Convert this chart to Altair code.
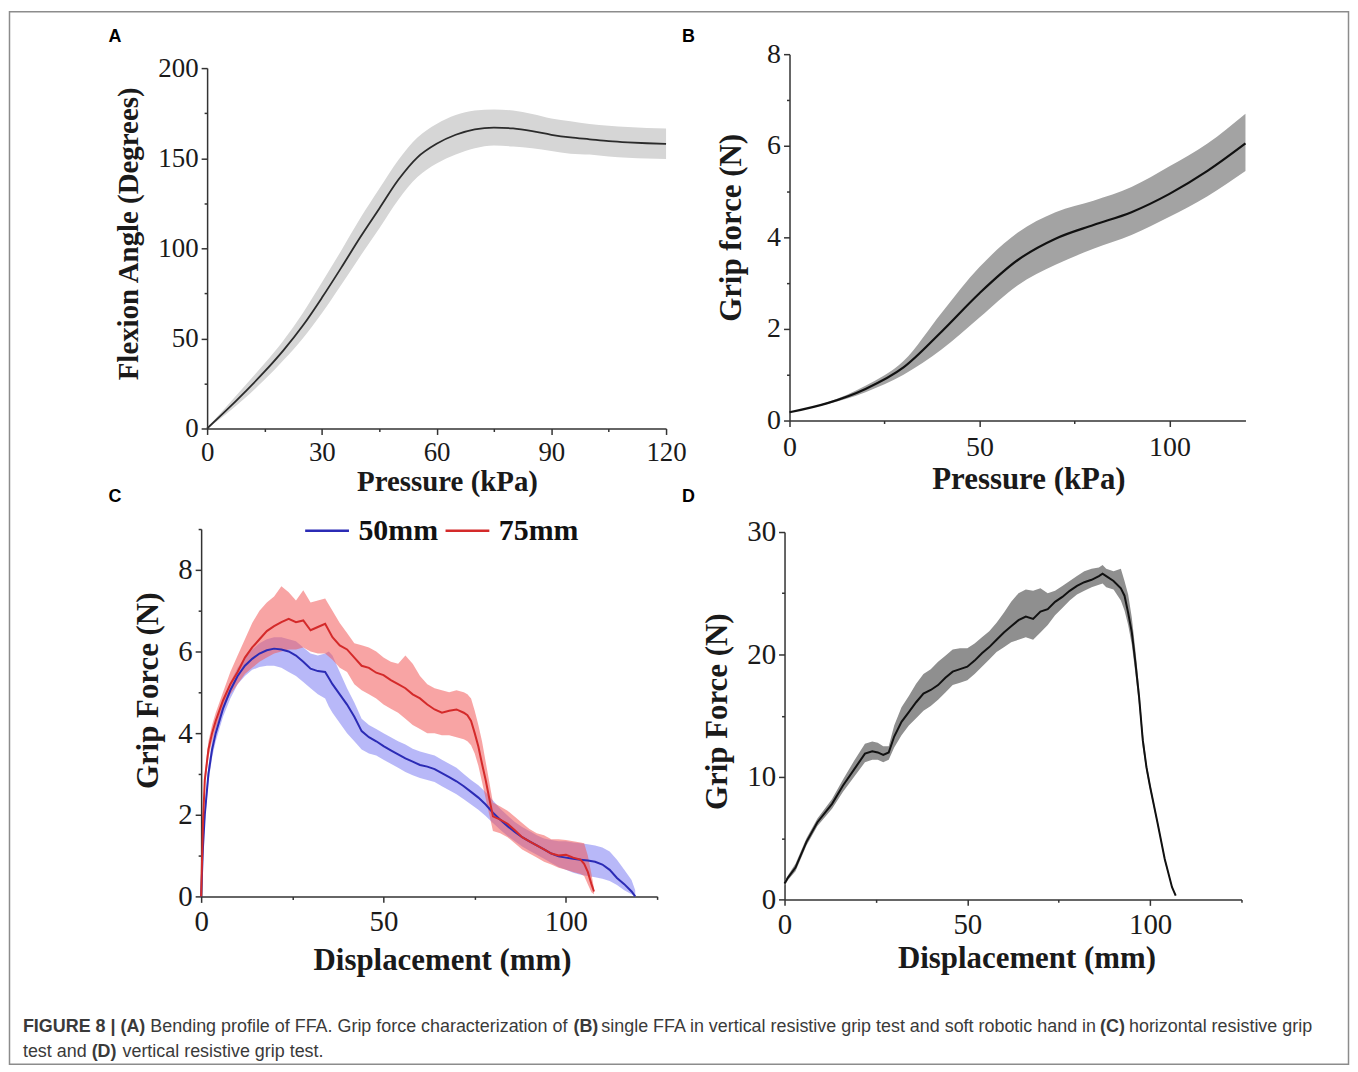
import altair as alt
import pandas as pd

# ---------------- Panel A : bending profile ----------------
a_pressure = [0, 5, 10, 15, 20, 25, 30, 35, 40, 45, 50, 55, 60, 65, 70, 75, 80, 85, 90, 95, 100, 105, 110, 115, 120]
a_mean = [0, 10, 20.5, 31.5, 43.5, 57, 72.5, 89, 106, 122, 138, 150.5, 158, 163, 166, 167, 166.5, 165, 163, 161.5, 160.5, 159.5, 158.8, 158.3, 158]
a_upper = [0.5, 12, 24, 36, 49, 64, 81, 98.5, 116.5, 133, 149, 161.5, 169, 174, 176.5, 177, 176.5, 174.5, 172, 170.5, 169, 168, 167.3, 166.8, 166.5]
a_lower = [0, 8, 17, 27, 38, 50, 64, 79.5, 95.5, 111, 127, 139.5, 147, 152, 155.5, 157, 156.5, 155.5, 154, 152.5, 152, 151, 150.3, 149.8, 149.5]

# ---------------- Panel B : single FFA grip force ----------------
b_pressure = [0, 10, 20, 30, 40, 50, 60, 70, 80, 90, 100, 110, 120]
b_mean = [0.18, 0.38, 0.69, 1.16, 1.94, 2.78, 3.50, 3.97, 4.27, 4.55, 4.95, 5.45, 6.05]
b_upper = [0.18, 0.40, 0.76, 1.30, 2.35, 3.35, 4.10, 4.55, 4.80, 5.10, 5.55, 6.05, 6.70]
b_lower = [0.18, 0.36, 0.62, 1.00, 1.55, 2.25, 2.95, 3.40, 3.75, 4.05, 4.45, 4.90, 5.45]

# ---------------- Panel C : horizontal resistive grip ----------------
c50_x = [0, 0.5, 1, 2, 3, 4, 6, 8, 10, 12, 14, 16, 18, 20, 22, 24, 26, 28, 30, 32, 34, 35, 36, 38, 40,
         42, 44, 46, 48, 50, 52, 54, 56, 58, 60, 62, 64, 66, 68, 70, 72, 74, 76, 78, 80, 82, 84, 86, 88,
         90, 92, 94, 96, 98, 100, 102, 104, 106, 108, 110, 112, 114, 116, 118, 119]
c50_mean = [0, 1.2, 2.0, 3.0, 3.6, 4.0, 4.6, 5.05, 5.4, 5.65, 5.82, 5.95, 6.03, 6.07, 6.05, 6.0, 5.9, 5.75, 5.58, 5.52, 5.5, 5.35, 5.2, 4.95, 4.7,
            4.4, 4.05, 3.9, 3.8, 3.68, 3.58, 3.48, 3.38, 3.3, 3.22, 3.18, 3.12, 3.02, 2.92, 2.82, 2.7, 2.56, 2.42, 2.25, 2.05, 1.88, 1.72, 1.58, 1.45,
            1.35, 1.25, 1.15, 1.05, 0.98, 0.95, 0.92, 0.9, 0.88, 0.85, 0.78, 0.65, 0.45, 0.3, 0.12, 0.0]
c50_upper = [0, 1.3, 2.2, 3.2, 3.8, 4.2, 4.8, 5.25, 5.6, 5.85, 6.05, 6.2, 6.3, 6.35, 6.35, 6.3, 6.25, 6.1, 5.95, 5.9, 5.95, 6.0, 5.9, 5.5, 5.1,
             4.75, 4.35, 4.2, 4.1, 4.0, 3.9, 3.8, 3.72, 3.62, 3.55, 3.5, 3.45, 3.35, 3.25, 3.15, 3.0, 2.85, 2.72, 2.55, 2.35, 2.15, 1.98, 1.82, 1.7,
             1.6, 1.5, 1.42, 1.38, 1.35, 1.35, 1.32, 1.3, 1.28, 1.25, 1.2, 1.1, 0.9, 0.65, 0.4, 0.15]
c50_lower = [0, 1.1, 1.8, 2.8, 3.4, 3.8, 4.4, 4.85, 5.2, 5.4, 5.55, 5.62, 5.65, 5.65, 5.6, 5.5, 5.4, 5.25, 5.1, 4.95, 4.85, 4.65, 4.5, 4.25, 4.0,
             3.8, 3.6, 3.5, 3.45, 3.35, 3.25, 3.15, 3.05, 2.97, 2.9, 2.85, 2.8, 2.7, 2.6, 2.5, 2.38, 2.25, 2.12, 1.97, 1.8, 1.63, 1.48, 1.35, 1.22,
             1.12, 1.02, 0.92, 0.82, 0.72, 0.65, 0.58, 0.53, 0.5, 0.47, 0.43, 0.38, 0.28, 0.15, 0.05, 0.0]

c75_x = [0, 0.5, 1, 2, 3, 4, 6, 8, 10, 12, 14, 16, 18, 20, 22, 24, 26, 28, 30, 32, 34, 36, 38, 40, 42, 44, 46, 48,
         50, 52, 54, 56, 58, 60, 62, 64, 66, 68, 70, 72, 73, 74, 75, 76, 77, 78, 79, 80, 82, 84, 86, 88, 90, 92,
         94, 96, 98, 100, 102, 104, 105, 106, 107, 107.7]
c75_mean = [0, 1.8, 2.85, 3.6, 4.0, 4.3, 4.8, 5.2, 5.5, 5.85, 6.1, 6.3, 6.5, 6.62, 6.72, 6.8, 6.72, 6.76, 6.52, 6.6, 6.68, 6.35, 6.15, 6.05, 5.85, 5.65, 5.6, 5.48,
            5.42, 5.3, 5.2, 5.1, 4.95, 4.85, 4.7, 4.58, 4.5, 4.55, 4.58, 4.5, 4.44, 4.3, 4.0, 3.67, 3.25, 2.85, 2.4, 1.96, 1.88, 1.78, 1.62, 1.45, 1.35, 1.25,
            1.15, 1.05, 1.0, 1.02, 0.95, 0.9, 0.8, 0.6, 0.3, 0.12]
c75_upper = [0, 2.0, 3.0, 3.8, 4.2, 4.5, 5.0, 5.5, 5.9, 6.3, 6.7, 7.0, 7.2, 7.35, 7.6, 7.45, 7.25, 7.5, 7.2, 7.25, 7.3, 7.0, 6.7, 6.45, 6.2, 6.15, 6.1, 6.0,
             5.85, 5.75, 5.7, 5.9, 5.7, 5.4, 5.2, 5.1, 5.05, 5.0, 5.05, 5.0, 4.95, 4.85, 4.55, 4.2, 3.8, 3.3, 2.8, 2.3, 2.2, 2.1, 1.95, 1.8, 1.65, 1.55,
             1.5, 1.4, 1.4, 1.38, 1.35, 1.32, 1.3, 1.0, 0.55, 0.2]
c75_lower = [0, 1.6, 2.7, 3.4, 3.8, 4.1, 4.6, 4.95, 5.2, 5.45, 5.6, 5.75, 5.85, 5.95, 6.0, 6.05, 6.05, 6.1, 6.0, 5.95, 5.95, 5.8, 5.6, 5.5, 5.2, 5.05, 4.95, 4.85,
             4.7, 4.6, 4.5, 4.35, 4.2, 4.1, 4.0, 4.0, 3.95, 3.95, 3.9, 3.85, 3.8, 3.7, 3.5, 3.2, 2.8, 2.4, 2.0, 1.6, 1.55, 1.45, 1.3, 1.15, 1.05, 0.95,
             0.85, 0.78, 0.7, 0.65, 0.6, 0.55, 0.5, 0.3, 0.1, 0.05]
c_series = ["50mm", "75mm"]

# ---------------- Panel D : vertical resistive grip ----------------
d_x = [0, 1, 3, 6, 9, 13, 16, 19, 22, 24, 25.5, 27, 28.5,
       30, 32, 34, 36, 38, 40, 42, 44, 46, 48, 50, 52, 54, 56, 58, 60, 62, 64, 66, 68, 70, 72, 74, 76, 78, 80, 82, 84, 86,
       87, 88, 90, 92, 93, 94, 95, 96, 97, 98, 99, 100, 102, 104, 106, 107]
d_mean = [1.3, 1.8, 2.6, 4.7, 6.3, 7.8, 9.3, 10.6, 11.9, 12.1, 12.0, 11.8, 12.0,
          13.3, 14.5, 15.3, 16.1, 16.8, 17.1, 17.5, 18.1, 18.6, 18.8, 19.0, 19.5, 20.1, 20.6, 21.2, 21.8, 22.3, 22.8, 23.1, 22.9, 23.5, 23.7, 24.3, 24.7, 25.2, 25.6, 25.9, 26.1, 26.4,
          26.6, 26.4, 26.0, 25.4, 24.8, 23.4, 21.8, 19.3, 16.5, 13.0, 10.8, 9.2, 6.3, 3.3, 1.0, 0.3]
d_upper = [1.5, 2.0, 2.9, 5.0, 6.6, 8.2, 9.8, 11.3, 12.7, 12.9, 12.8, 12.5, 12.5,
           14.2, 15.7, 16.6, 17.6, 18.4, 18.8, 19.4, 19.9, 20.4, 20.5, 20.5, 20.9, 21.4, 21.9, 22.6, 23.4, 24.3, 25.0, 25.3, 25.2, 25.4, 25.0, 25.2, 25.6, 26.0, 26.4, 26.8, 27.0, 27.1,
           27.3, 27.0, 26.8, 27.0, 26.0, 24.9, 23.0, 20.3, 17.2, 13.6, 11.2, 9.5, 6.5, 3.5, 1.1, 0.35]
d_lower = [1.1, 1.6, 2.3, 4.4, 6.0, 7.4, 8.8, 10.0, 11.2, 11.4, 11.4, 11.2, 11.4,
           12.4, 13.4, 14.2, 14.8, 15.4, 15.8, 16.3, 16.9, 17.5, 17.7, 17.9, 18.4, 19.0, 19.6, 20.2, 20.6, 21.0, 21.2, 21.4, 21.2, 21.8, 22.4, 23.2, 23.8, 24.4, 24.9, 25.2, 25.5, 25.7,
           25.8, 25.5, 25.3, 24.4, 23.6, 22.4, 20.8, 18.4, 15.8, 12.4, 10.4, 8.9, 6.1, 3.1, 0.9, 0.25]

# ---------------- texts ----------------
panel_letters = ["A", "B", "C", "D"]
caption_line1 = [("FIGURE 8 | (A)", True), ("Bending profile of FFA. Grip force characterization of", False),
                 ("(B)", True), ("single FFA in vertical resistive grip test and soft robotic hand in", False),
                 ("(C)", True), ("horizontal resistive grip", False)]
caption_line2 = [("test and", False), ("(D)", True), ("vertical resistive grip test.", False)]

SERIF = "Liberation Serif"
SANS = "Liberation Sans"
AX = "#333333"
TXT = "#1a1a1a"


def x_axis(title, values, major, tx, ty, lsize, tsize, lpad):
    test = f"datum.value % {major} === 0"
    return alt.Axis(title=title, values=values, grid=False,
                    labelExpr=f"{test} ? datum.label : ''",
                    tickSize={"condition": {"test": test, "value": 6}, "value": 3},
                    tickWidth=1.5, tickColor=AX, domainColor=AX, domainWidth=1.5,
                    labelFont=SERIF, labelFontSize=lsize, labelColor=TXT, labelPadding=lpad,
                    labelOverlap=False, labelFlush=False,
                    titleFont=SERIF, titleFontSize=tsize, titleFontWeight="bold", titleColor=TXT,
                    titleX=tx, titleY=ty, titleAlign="center", titleBaseline="alphabetic", titleAngle=0)


def y_axis(title, values, major, tx, ty, lsize, tsize, offset=0):
    test = f"datum.value % {major} === 0"
    return alt.Axis(title=title, values=values, grid=False,
                    labelExpr=f"{test} ? datum.label : ''",
                    tickSize={"condition": {"test": test, "value": 6}, "value": 3},
                    tickWidth=1.5, tickColor=AX, domainColor=AX, domainWidth=1.5,
                    labelFont=SERIF, labelFontSize=lsize, labelColor=TXT, labelPadding=3,
                    labelOverlap=False, labelFlush=False,
                    titleFont=SERIF, titleFontSize=tsize, titleFontWeight="bold", titleColor=TXT,
                    titleX=tx, titleY=ty, titleAlign="center", titleBaseline="alphabetic", titleAngle=270,
                    offset=offset)


one = pd.DataFrame({"k": [0]})

# ---------------- Panel A chart ----------------
a_df = pd.DataFrame({"P": a_pressure, "mean": a_mean, "lo": a_lower, "hi": a_upper})
a_xs = alt.Scale(domain=[0, 120], range=[6, 467], nice=False, zero=False)
a_ys = alt.Scale(domain=[0, 200], range=[376, 14], nice=False)
a_xa = x_axis("Pressure (kPa)", list(range(0, 121, 15)), 30, 247, 62, 27, 29, 5)
a_ya = y_axis("Flexion Angle (Degrees)", list(range(0, 201, 25)), 50, -70, 180, 27, 29, offset=-6)
a_band = alt.Chart(a_df).mark_area(color="#d6d6d6", interpolate="monotone").encode(
    x=alt.X("P:Q", scale=a_xs, axis=a_xa), y=alt.Y("lo:Q", scale=a_ys, axis=a_ya), y2="hi:Q")
a_line = alt.Chart(a_df).mark_line(color="#2b2b2b", strokeWidth=1.8, interpolate="monotone").encode(
    x=alt.X("P:Q", scale=a_xs, axis=a_xa), y=alt.Y("mean:Q", scale=a_ys, axis=a_ya))

# decorations positioned relative to panel A's cell origin
deco = [alt.Chart(one).mark_rect(filled=False, stroke="#8c8c8c", strokeWidth=1.5).encode(
    x=alt.value(-192.5), x2=alt.value(1152.5), y=alt.value(-42.5), y2=alt.value(1014.5))]
letter_pos = [(-93, -12), (483, -12), (-93, 450), (483, 450)]
for letter, (lx, ly) in zip(panel_letters, letter_pos):
    deco.append(alt.Chart(one).mark_text(text=letter, font=SANS, fontSize=18, fontWeight="bold",
                                         color="#000000", align="left", baseline="alphabetic").encode(
        x=alt.value(lx), y=alt.value(ly)))
cap1_x = [-179, -51, 374, 402, 903, 932]
cap2_x = [-179, -110, -79]
for (txt, bold), cx in zip(caption_line1, cap1_x):
    deco.append(alt.Chart(one).mark_text(text=txt, font=SANS, fontSize=18,
                                         fontWeight="bold" if bold else "normal",
                                         color="#3a3a3a", align="left", baseline="alphabetic").encode(
        x=alt.value(cx), y=alt.value(982)))
for (txt, bold), cx in zip(caption_line2, cap2_x):
    deco.append(alt.Chart(one).mark_text(text=txt, font=SANS, fontSize=18,
                                         fontWeight="bold" if bold else "normal",
                                         color="#3a3a3a", align="left", baseline="alphabetic").encode(
        x=alt.value(cx), y=alt.value(1007)))

panel_a = alt.layer(a_band, a_line, *deco).properties(width=467, height=376)

# ---------------- Panel B chart ----------------
b_df = pd.DataFrame({"P": b_pressure, "mean": b_mean, "lo": b_lower, "hi": b_upper})
b_xs = alt.Scale(domain=[0, 120], range=[5, 463], nice=False, zero=False)
b_ys = alt.Scale(domain=[0, 8], nice=False)
b_xa = x_axis("Pressure (kPa)", [0, 25, 50, 75, 100], 50, 245, 68, 28, 31, 7)
b_ya = y_axis("Grip force (N)", list(range(0, 9)), 2, -49, 174, 28, 31, offset=-5)
b_band = alt.Chart(b_df).mark_area(color="#a3a3a3", interpolate="monotone").encode(
    x=alt.X("P:Q", scale=b_xs, axis=b_xa), y=alt.Y("lo:Q", scale=b_ys, axis=b_ya), y2="hi:Q")
b_line = alt.Chart(b_df).mark_line(color="#111111", strokeWidth=2.2, interpolate="monotone").encode(
    x=alt.X("P:Q", scale=b_xs, axis=b_xa), y=alt.Y("mean:Q", scale=b_ys, axis=b_ya))
panel_b = alt.layer(b_band, b_line).properties(width=463, height=368)

# ---------------- Panel C chart ----------------
BLUE_L, RED_L = "#2b2bb5", "#d42a2a"
c50_df = pd.DataFrame({"x": c50_x, "lo": c50_lower, "hi": c50_upper})
c75_df = pd.DataFrame({"x": c75_x, "lo": c75_lower, "hi": c75_upper})
c_lines = pd.DataFrame({"x": c50_x + c75_x, "F": c50_mean + c75_mean,
                        "series": [c_series[0]] * len(c50_x) + [c_series[1]] * len(c75_x)})
c_xs = alt.Scale(domain=[0, 125], nice=False, zero=False)
c_ys = alt.Scale(domain=[0, 9], nice=False)
c_xa = x_axis("Displacement (mm)", [0, 25, 50, 75, 100, 125], 50, 242, 73, 29, 31, 5)
c_ya = y_axis("Grip Force (N)", list(range(0, 10)), 2, -44, 162, 29, 31)
c_band50 = alt.Chart(c50_df).mark_area(color="#7d7df2", opacity=0.55).encode(
    x=alt.X("x:Q", scale=c_xs, axis=c_xa), y=alt.Y("lo:Q", scale=c_ys, axis=c_ya), y2="hi:Q")
c_band75 = alt.Chart(c75_df).mark_area(color="#f25a5a", opacity=0.55).encode(
    x=alt.X("x:Q", scale=c_xs, axis=c_xa), y=alt.Y("lo:Q", scale=c_ys, axis=c_ya), y2="hi:Q")
c_line = alt.Chart(c_lines).mark_line(strokeWidth=2).encode(
    x=alt.X("x:Q", scale=c_xs, axis=c_xa),
    y=alt.Y("F:Q", scale=c_ys, axis=c_ya),
    color=alt.Color("series:N", scale=alt.Scale(domain=c_series, range=[BLUE_L, RED_L]),
                    legend=alt.Legend(orient="none", legendX=103, legendY=455, direction="horizontal",
                                      title=None, symbolType="stroke", symbolSize=1936, symbolStrokeWidth=2.5,
                                      labelFont=SERIF, labelFontSize=30, labelFontWeight="bold",
                                      labelColor="#111111", labelOffset=8, columnPadding=2, padding=0)))
panel_c = alt.layer(c_band50, c_band75, c_line).properties(width=458, height=369)

# ---------------- Panel D chart ----------------
d_df = pd.DataFrame({"x": d_x, "mean": d_mean, "lo": d_lower, "hi": d_upper})
d_xs = alt.Scale(domain=[0, 125], nice=False, zero=False)
d_ys = alt.Scale(domain=[0, 30], range=[372, 3], nice=False)
d_xa = x_axis("Displacement (mm)", [0, 25, 50, 75, 100, 125], 50, 243, 68, 29, 31, 5)
d_ya = y_axis("Grip Force (N)", list(range(0, 31, 5)), 10, -58, 183, 29, 31)
d_band = alt.Chart(d_df).mark_area(color="#8f8f8f").encode(
    x=alt.X("x:Q", scale=d_xs, axis=d_xa), y=alt.Y("lo:Q", scale=d_ys, axis=d_ya), y2="hi:Q")
d_line = alt.Chart(d_df).mark_line(color="#111111", strokeWidth=2).encode(
    x=alt.X("x:Q", scale=d_xs, axis=d_xa), y=alt.Y("mean:Q", scale=d_ys, axis=d_ya))
panel_d = alt.layer(d_band, d_line).properties(width=459, height=372)

chart = alt.concat(panel_a, panel_b, panel_c, panel_d, columns=2,
                   spacing={"row": 101, "column": 119}, bounds="flush", align="all").properties(
    padding=0, background="#ffffff").configure_view(stroke=None)

chart.save("out.html", embed_options={"renderer": "svg", "actions": False})
